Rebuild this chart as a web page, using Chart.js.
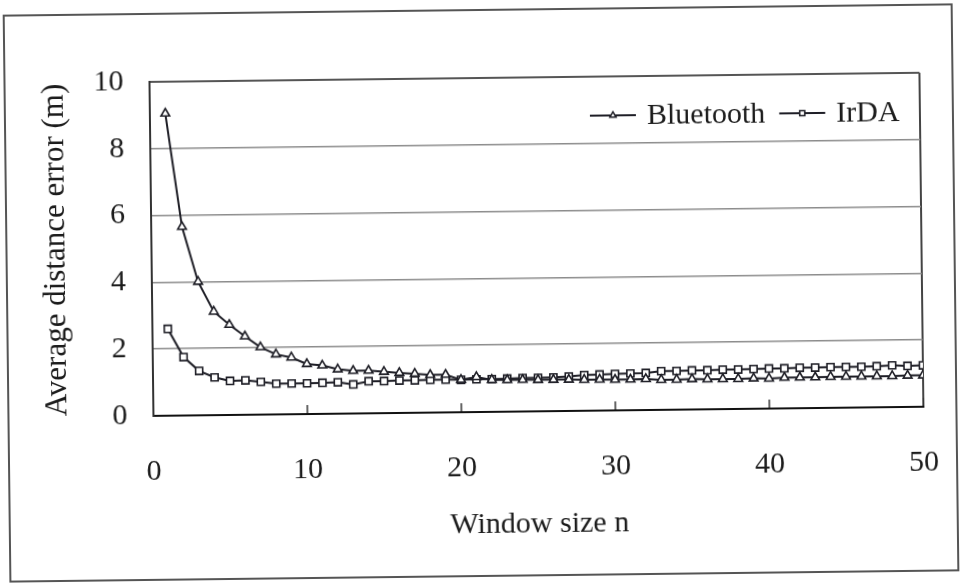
<!DOCTYPE html>
<html>
<head>
<meta charset="utf-8">
<script src="https://cdn.jsdelivr.net/npm/chart.js@4"></script>
<style>
  html, body { margin: 0; padding: 0; background: #fff; }
  #wrap { width: 960px; height: 583px; overflow: hidden; position: relative; background: #fff; }
  #chart { display: block; transform: rotate(-0.68deg); transform-origin: 50% 50%; }
</style>
</head>
<body>
<div id="wrap"><canvas id="chart" width="960" height="583"></canvas></div>
<script>
// Window size n (samples averaged)
const windowSizes = [
  1, 2, 3, 4, 5, 6, 7, 8, 9, 10,
  11, 12, 13, 14, 15, 16, 17, 18, 19, 20,
  21, 22, 23, 24, 25, 26, 27, 28, 29, 30,
  31, 32, 33, 34, 35, 36, 37, 38, 39, 40,
  41, 42, 43, 44, 45, 46, 47, 48, 49, 50
];

// Average distance error (m) per window size
const bluetoothError = [
  9.05, 5.65, 4.00, 3.10, 2.70, 2.35, 2.02, 1.80, 1.70, 1.50,
  1.45, 1.33, 1.28, 1.28, 1.24, 1.20, 1.17, 1.13, 1.13, 0.97,
  1.05, 0.96, 0.95, 0.95, 0.94, 0.94, 0.94, 0.93, 0.93, 0.92,
  0.92, 0.93, 0.90, 0.90, 0.91, 0.90, 0.90, 0.90, 0.91, 0.90,
  0.92, 0.92, 0.92, 0.93, 0.93, 0.93, 0.93, 0.93, 0.94, 0.94
];
const irdaError = [
  2.60, 1.75, 1.33, 1.13, 1.02, 1.03, 0.98, 0.92, 0.92, 0.92,
  0.93, 0.94, 0.87, 0.96, 0.96, 0.97, 0.97, 0.98, 0.98, 0.97,
  0.98, 0.98, 0.99, 1.00, 1.00, 1.01, 1.03, 1.07, 1.08, 1.09,
  1.10, 1.11, 1.16, 1.16, 1.17, 1.17, 1.18, 1.18, 1.19, 1.20,
  1.20, 1.21, 1.21, 1.22, 1.22, 1.22, 1.23, 1.25, 1.23, 1.24
];

const xTicks = [0, 10, 20, 30, 40, 50];
const yTicks = [0, 2, 4, 6, 8, 10];

const seriesNames = ['Bluetooth', 'IrDA'];

const FONT_FAMILY = '"Liberation Serif", "Times New Roman", serif';
const INK = '#1c1c1c';

const toPoints = (xs, ys) => xs.map((x, i) => ({ x: x, y: ys[i] }));

// Outer frame, white page and the in-plot legend (line + marker + name)
const pagePlugin = {
  id: 'pagePlugin',
  beforeDraw(chart) {
    const { ctx, width, height } = chart;
    ctx.save();
    ctx.fillStyle = '#fff';
    ctx.fillRect(0, 0, width, height);
    ctx.strokeStyle = '#555';
    ctx.lineWidth = 2;
    ctx.strokeRect(7, 10, 948, 566);
    ctx.restore();
  },
  afterDatasetsDraw(chart) {
    const { ctx } = chart;
    const y = 117;
    let x = 592;
    ctx.save();
    ctx.font = '30px ' + FONT_FAMILY;
    ctx.textBaseline = 'middle';
    ctx.textAlign = 'left';
    chart.data.datasets.forEach((ds) => {
      ctx.strokeStyle = ds.borderColor;
      ctx.lineWidth = 2;
      ctx.beginPath();
      ctx.moveTo(x, y);
      ctx.lineTo(x + 46, y);
      ctx.stroke();
      ctx.fillStyle = '#fff';
      ctx.lineWidth = 1.5;
      Chart.helpers.drawPoint(ctx, { pointStyle: ds.pointStyle, radius: 3.6, borderWidth: 1.5, rotation: 0 }, x + 23, y);
      ctx.fillStyle = INK;
      ctx.fillText(ds.label, x + 57, y + 1);
      x += 57 + ctx.measureText(ds.label).width + 14;
    });
    ctx.restore();
  }
};

new Chart(document.getElementById('chart'), {
  type: 'line',
  data: {
    datasets: [
      {
        label: seriesNames[0],
        data: toPoints(windowSizes, bluetoothError),
        borderColor: '#1e1e26',
        borderWidth: 2,
        pointStyle: 'triangle',
        pointRadius: 5,
        pointBorderWidth: 1.6,
        pointBackgroundColor: '#fff',
        pointBorderColor: '#1e1e26',
        tension: 0
      },
      {
        label: seriesNames[1],
        data: toPoints(windowSizes, irdaError),
        borderColor: '#1e1e26',
        borderWidth: 2,
        pointStyle: 'rect',
        pointRadius: 5,
        pointBorderWidth: 1.6,
        pointBackgroundColor: '#fff',
        pointBorderColor: '#1e1e26',
        tension: 0
      }
    ]
  },
  options: {
    responsive: false,
    animation: false,
    layout: { padding: { left: 20, top: 78, right: 38, bottom: 20 } },
    plugins: {
      legend: { display: false },
      tooltip: { enabled: false }
    },
    scales: {
      x: {
        type: 'linear',
        min: 0,
        max: 50,
        afterBuildTicks: (s) => { s.ticks = xTicks.map(v => ({ value: v })); },
        afterFit: (s) => {
          s.height = 151;
          // end labels only need half their width beside the plot
          s.paddingLeft = 15;
          s.paddingRight = 15;
        },
        border: { display: true, color: '#111', width: 2 },
        grid: {
          drawOnChartArea: true,
          color: (c) => (c.tick && c.tick.value === 50 ? '#444' : 'rgba(0,0,0,0)'),
          lineWidth: 2,
          drawTicks: true,
          tickLength: -9,
          tickColor: '#333',
          tickWidth: 1.5
        },
        ticks: {
          padding: 47,
          color: INK,
          font: { family: FONT_FAMILY, size: 30 },
          maxRotation: 0
        },
        title: {
          display: true,
          text: 'Window size n',
          color: INK,
          font: { family: FONT_FAMILY, size: 30 },
          padding: { top: 0, bottom: 20 }
        }
      },
      y: {
        type: 'linear',
        min: 0,
        max: 10,
        afterBuildTicks: (s) => { s.ticks = yTicks.map(v => ({ value: v })); },
        afterFit: (s) => { s.width = 132; },
        border: { display: true, color: '#333', width: 2 },
        grid: {
          color: (c) => (c.tick && c.tick.value === 10 ? '#555' : (c.tick && c.tick.value === 0 ? 'rgba(0,0,0,0)' : '#8c8c8c')),
          lineWidth: (c) => (c.tick && c.tick.value === 10 ? 2 : 1.5),
          drawTicks: false
        },
        ticks: {
          padding: 26,
          color: INK,
          font: { family: FONT_FAMILY, size: 30 }
        },
        title: {
          display: true,
          text: 'Average distance error (m)',
          color: INK,
          font: { family: FONT_FAMILY, size: 31 },
          padding: { top: 18, bottom: 0 }
        }
      }
    }
  },
  plugins: [pagePlugin]
});
</script>
</body>
</html>
